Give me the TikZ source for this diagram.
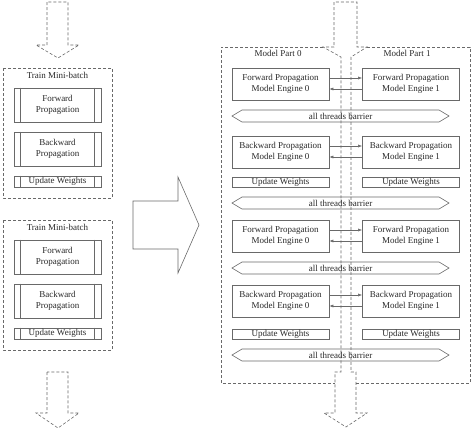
\documentclass[tikz,border=0pt]{standalone}
\usepackage{fontspec}
\setmainfont{Liberation Serif}
\usetikzlibrary{arrows.meta}
\usetikzlibrary{shapes.symbols}
\definecolor{linegray}{RGB}{105,105,105}
\definecolor{textgray}{RGB}{40,40,40}
\newcommand{\smallf}{\fontsize{9}{11}\selectfont}

\begin{document}
\begin{tikzpicture}[x=1pt,y=-1pt,
        line/.style={draw=linegray, line width=0.6pt},
        dline/.style={line, dash pattern=on 3pt off 2pt},
        procbox/.style={line, rectangle, minimum width=87pt, inner sep=0pt, text=textgray, font=\smallf, align=center},
        enginebox/.style={line, rectangle, minimum width=97pt, inner sep=0pt, text=textgray, font=\smallf, align=center},
        barrier/.style={line, signal, signal to=west and east, signal pointer angle=62, minimum width=217pt, minimum height=12pt, inner sep=0.5pt, text=textgray, font=\smallf},
        label/.style={text=textgray, font=\smallf, inner sep=1pt},
        conn/.style={draw=linegray, line width=0.5pt, -{Latex[length=4pt,width=3pt]}}]
        \useasboundingbox (0,0) rectangle (473,429);

        % left: one thread
        \draw[dline] (47,2) -- (47,45) -- (36,45) -- (58,58) -- (79,45) -- (68,45) -- (68,2) -- cycle;
        \foreach \k/\dy in {1/0,2/152}{
            \draw[dline] (3,68+\dy) rectangle (112,198+\dy);
            \node[label] (ltitle\k) at (57.5,75+\dy) {Train Mini-batch};
            \node[procbox, minimum height=34pt] (lf\k) at (57.5,105+\dy) {Forward\\[0.5pt]Propagation};
            \node[procbox, minimum height=34pt] (lb\k) at (57.5,149+\dy) {Backward\\[0.5pt]Propagation};
            \node[procbox, minimum height=11pt] (lu\k) at (57.5,181.5+\dy) {Update Weights};
        }
        \foreach \n in {lf1,lb1,lu1,lf2,lb2,lu2}
            \draw[line] ([xshift=7pt]\n.north west) -- ([xshift=7pt]\n.south west)
                        ([xshift=-7pt]\n.north east) -- ([xshift=-7pt]\n.south east);
        \draw[dline] (47,372) -- (47,413) -- (36,413) -- (58,428) -- (79,413) -- (68,413) -- (68,372) -- cycle;

        % hollow arrow
        \draw[line] (133,201) -- (178,201) -- (178,177) -- (199,225) -- (178,273) -- (178,249) -- (133,249) -- cycle;

        % right: model parts
        \draw[dline] (323,47) -- (221,47) -- (221,383) -- (335,383);
        \draw[dline] (356,383) -- (470,383) -- (470,47) -- (367,47);
        \draw[dline] (334,2) -- (334,47) -- (323,47) -- (341,57) -- (341,372) -- (335,372) -- (335,413)
            -- (324,413) -- (346,427) -- (367,413) -- (356,413) -- (356,372) -- (351,372) -- (351,57)
            -- (367,47) -- (357,47) -- (357,2) -- cycle;

        \node[label] (part0) at (278,53) {Model Part 0};
        \node[label] (part1) at (407,53) {Model Part 1};

        \node[enginebox, minimum height=32pt] (f0a) at (280.5,84) {Forward Propagation\\Model Engine 0};
        \node[enginebox, minimum height=32pt] (f1a) at (411,84) {Forward Propagation\\Model Engine 1};
        \node[barrier] (bar1) at (340.5,116) {all threads barrier};
        \node[enginebox, minimum height=32pt] (b0a) at (280.5,152) {Backward Propagation\\Model Engine 0};
        \node[enginebox, minimum height=32pt] (b1a) at (411,152) {Backward Propagation\\Model Engine 1};
        \node[enginebox, minimum height=10pt] (u0a) at (280.5,182) {Update Weights};
        \node[enginebox, minimum height=10pt] (u1a) at (411,182) {Update Weights};
        \node[barrier] (bar2) at (340.5,203) {all threads barrier};
        \node[enginebox, minimum height=32pt] (f0b) at (280.5,236) {Forward Propagation\\Model Engine 0};
        \node[enginebox, minimum height=32pt] (f1b) at (411,236) {Forward Propagation\\Model Engine 1};
        \node[barrier] (bar3) at (340.5,268) {all threads barrier};
        \node[enginebox, minimum height=32pt] (b0b) at (280.5,301) {Backward Propagation\\Model Engine 0};
        \node[enginebox, minimum height=32pt] (b1b) at (411,301) {Backward Propagation\\Model Engine 1};
        \node[enginebox, minimum height=10pt] (u0b) at (280.5,334) {Update Weights};
        \node[enginebox, minimum height=10pt] (u1b) at (411,334) {Update Weights};
        \node[barrier] (bar4) at (340.5,355) {all threads barrier};

        \foreach \l/\r in {f0a/f1a,b0a/b1a,f0b/f1b,b0b/b1b}{
            \draw[conn] ([yshift=6pt]\l.east) -- ([yshift=6pt]\r.west);
            \draw[conn] ([yshift=-5pt]\r.west) -- ([yshift=-5pt]\l.east);
        }
    \end{tikzpicture}
\end{document}
